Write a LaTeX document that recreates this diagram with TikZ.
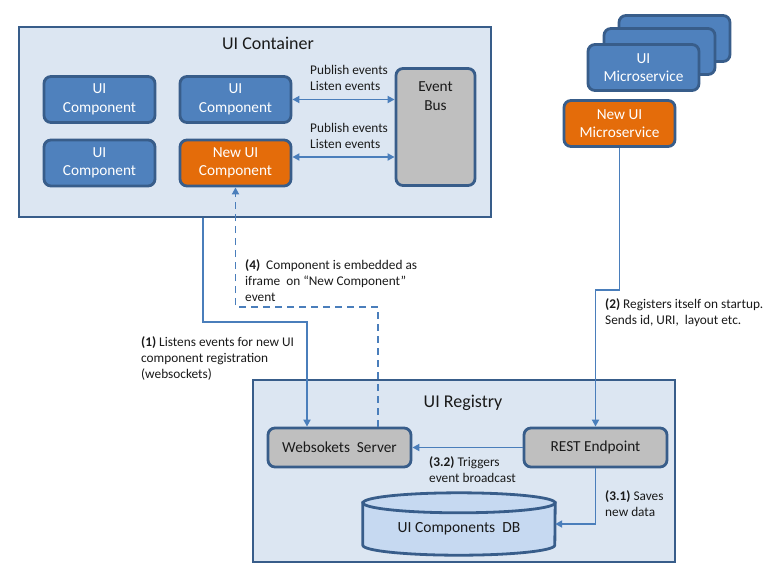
\documentclass[tikz,border=0pt]{standalone}
\usepackage{fontspec}
\setmainfont{Carlito}
\usetikzlibrary{calc,positioning,arrows.meta}
\definecolor{panelbg}{HTML}{DCE6F2}
\definecolor{frame}{HTML}{385D8A}
\definecolor{compblue}{HTML}{4F81BD}
\definecolor{neworange}{HTML}{E46C0A}
\definecolor{busgray}{HTML}{BFBFBF}
\definecolor{dbfill}{HTML}{C6D9F1}
\definecolor{wire}{HTML}{4A7EBB}
\definecolor{ink}{HTML}{1A1A1A}
\tikzset{
  panel/.style={draw=frame, fill=panelbg, line width=2.8pt, inner sep=0},
  compbox/.style={rounded corners=7pt, draw=frame, fill=compblue, line width=2.8pt,
    text=white, align=center, font=\fontsize{15.3}{18.5}\selectfont,
    minimum width=111pt, minimum height=46pt, inner sep=0},
  newbox/.style={compbox, fill=neworange},
  graybox/.style={compbox, fill=busgray, text=ink},
  title/.style={text=ink, font=\fontsize{18}{21}\selectfont, inner sep=0},
  note/.style={text=ink, font=\fontsize{13.3}{16}\selectfont, align=left, inner sep=0, anchor=west},
  flow/.style={draw=wire, line width=1.7pt, -{Triangle[length=7pt,width=7pt]}},
  both/.style={flow, {Triangle[length=7pt,width=7pt]}-{Triangle[length=7pt,width=7pt]}},
  dashflow/.style={flow, dash pattern=on 7pt off 5pt},
  dbline/.style={draw=frame, line width=2.8pt, fill=dbfill},
}

\begin{document}
\begin{tikzpicture}[x=1pt, y=-1pt]
  \useasboundingbox[fill=white] (0,0) rectangle (773,579);

  % containers
  \node[panel, minimum width=472pt, minimum height=190pt] (container) at (255,122) {};
  \node[title] (containertitle) at (268,43) {UI Container};
  \node[panel, minimum width=422pt, minimum height=182pt] (registry) at (464,471) {};
  \node[title] (registrytitle) at (463,403) {UI Registry};

  % UI components and event bus
  \node[compbox] (comp1) at (99.5,99.5) {UI\\Component};
  \node[compbox] (comp2) at (235.5,99.5) {UI\\Component};
  \node[compbox] (comp3) at (99.5,163) {UI\\Component};
  \node[newbox] (newcomp) at (235.5,163) {New UI\\Component};
  \node[graybox, minimum width=79pt, minimum height=117pt] (bus) at (435.5,127) {};
  \node[text=ink, align=center, font=\fontsize{15.3}{18.5}\selectfont, inner sep=0] (bustext) at (435.5,96) {Event\\Bus};

  % microservices
  \node[compbox] (ms3) at (674.5,38.5) {};
  \node[compbox] (ms2) at (659.5,51.5) {};
  \node[compbox] (ms1) at (643.5,67.5) {UI\\Microservice};
  \node[newbox] (newms) at (619.5,123.5) {New UI\\Microservice};

  % registry parts
  \node[graybox, minimum width=143pt, minimum height=39pt] (wss) at (339.5,447.5) {Websokets~ Server};
  \node[graybox, minimum width=143pt, minimum height=39pt] (rest) at (595.5,447.5) {REST Endpoint};
  \node[minimum width=192pt, minimum height=62pt, inner sep=0] (db) at (459,524) {};
  \path[dbline] ($(db.north west)+(0,10)$) -- ($(db.south west)+(0,-10)$)
    arc[start angle=180, end angle=360, x radius=96pt, y radius=10pt]
    -- ($(db.north east)+(0,10)$) -- cycle;
  \draw[dbline] ($(db.north)+(0,10)$) ellipse [x radius=96pt, y radius=10pt];
  \node[text=ink, font=\fontsize{15.5}{18}\selectfont, inner sep=0] (dbtext) at (459,529) {UI Components~ DB};

  % event bus links
  \draw[both] (comp2.east) -- (comp2.east -| bus.west);
  \draw[both] ([yshift=6pt]newcomp.east) -- ([yshift=6pt]newcomp.east -| bus.west);
  \node[note] (pub1) at (310,78) {Publish events\\Listen events};
  \node[note] (pub2) at (310,136) {Publish events\\Listen events};

  % (1) listen for registrations
  \coordinate (bend1) at (203,322);
  \draw[flow] (container.south -| bend1) -- (bend1) -| ([xshift=-32.5pt]wss.north);
  \node[note] (note1) at (141,358) {\textbf{(1)} Listens events for new UI\\component registration\\(websockets)};

  % (2) register microservice
  \coordinate (bend2) at (595.5,290);
  \draw[flow] (newms.south) |- (bend2) -- (rest.north);
  \node[note] (note2) at (605,313) {\textbf{(2)} Registers itself on startup.\\Sends id, URI,~ layout etc.};

  % (3.1) and (3.2)
  \draw[flow] (rest.west) -- (wss.east);
  \node[note] (note32) at (429,470) {\textbf{(3.2)} Triggers\\event broadcast};
  \draw[flow] (rest.south) |- (db.east);
  \node[note] (note31) at (605,504) {\textbf{(3.1)} Saves\\new data};

  % (4) embed component
  \coordinate (bend4) at (235.5,307);
  \draw[dashflow] ([xshift=38.5pt]wss.north) |- (bend4) -- (newcomp.south);
  \node[note] (note4) at (245,281) {\textbf{(4)}~ Component is embedded as\\iframe~ on ``New Component''\\event};
\end{tikzpicture}
\end{document}
